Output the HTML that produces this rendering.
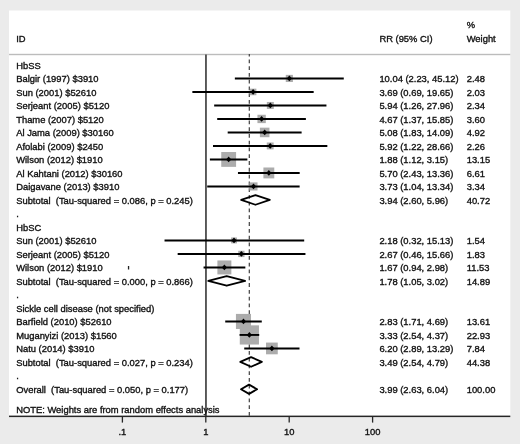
<!DOCTYPE html>
<html><head><meta charset="utf-8"><style>
html,body{margin:0;padding:0;width:520px;height:444px;overflow:hidden;background:#ebebeb;font-family:"Liberation Sans",sans-serif;}
svg{display:block;will-change:transform;}
text{white-space:pre;}
</style></head><body>
<svg width="520" height="444" viewBox="0 0 520 444">
<rect x="0" y="0" width="520" height="444" fill="#ebebeb"/>
<rect x="9" y="10.5" width="501.3" height="405.5" fill="#ffffff"/>
<rect x="9" y="53.8" width="501.3" height="1.4" fill="#bcbcbc"/>
<line x1="205.95" y1="54.5" x2="205.95" y2="416" stroke="#555" stroke-width="1.9"/>
<line x1="249.3" y1="54" x2="249.3" y2="416" stroke="#404040" stroke-width="1.2" stroke-dasharray="3.8 2.98" stroke-dashoffset="1.4"/>
<g fill="#acacac" stroke="none"><rect x="285.77" y="74.87" width="7.15" height="7.15"/><rect x="249.80" y="88.65" width="6.58" height="6.58"/><rect x="266.85" y="101.95" width="6.98" height="6.98"/><rect x="257.44" y="114.76" width="8.36" height="8.36"/><rect x="259.89" y="127.66" width="9.56" height="9.56"/><rect x="266.77" y="142.50" width="6.88" height="6.88"/><rect x="221.25" y="152.02" width="14.84" height="14.84"/><rect x="263.40" y="167.50" width="10.88" height="10.88"/><rect x="249.43" y="182.39" width="8.09" height="8.09"/><rect x="231.08" y="237.49" width="5.89" height="5.89"/><rect x="238.21" y="250.78" width="6.31" height="6.31"/><rect x="217.39" y="260.45" width="13.97" height="13.97"/><rect x="235.94" y="313.90" width="15.07" height="15.07"/><rect x="239.77" y="325.34" width="19.20" height="19.20"/><rect x="266.02" y="342.57" width="11.74" height="11.74"/></g>
<g stroke="#000" stroke-width="1.9"><line x1="234.85" y1="78.44" x2="343.77" y2="78.44"/><line x1="192.36" y1="91.94" x2="313.67" y2="91.94"/><line x1="214.17" y1="105.44" x2="326.44" y2="105.44"/><line x1="217.20" y1="118.94" x2="305.88" y2="118.94"/><line x1="227.69" y1="132.44" x2="301.62" y2="132.44"/><line x1="213.00" y1="145.94" x2="327.34" y2="145.94"/><line x1="209.90" y1="159.44" x2="247.36" y2="159.44"/><line x1="237.96" y1="172.94" x2="299.69" y2="172.94"/><line x1="207.22" y1="186.44" x2="299.64" y2="186.44"/><line x1="164.53" y1="240.44" x2="304.20" y2="240.44"/><line x1="177.67" y1="253.94" x2="305.45" y2="253.94"/><line x1="203.56" y1="267.44" x2="245.35" y2="267.44"/><line x1="225.23" y1="321.44" x2="261.78" y2="321.44"/><line x1="239.56" y1="334.94" x2="259.22" y2="334.94"/><line x1="244.24" y1="348.44" x2="299.50" y2="348.44"/></g>
<g fill="#000"><polygon points="286.74,78.44 289.34,75.54 291.94,78.44 289.34,81.34"/><polygon points="250.49,91.94 253.09,89.04 255.69,91.94 253.09,94.84"/><polygon points="267.73,105.44 270.33,102.54 272.93,105.44 270.33,108.34"/><polygon points="259.02,118.94 261.62,116.04 264.22,118.94 261.62,121.84"/><polygon points="262.07,132.44 264.67,129.54 267.27,132.44 264.67,135.34"/><polygon points="267.61,145.94 270.21,143.04 272.81,145.94 270.21,148.84"/><polygon points="226.06,159.44 228.66,156.54 231.26,159.44 228.66,162.34"/><polygon points="266.24,172.94 268.84,170.04 271.44,172.94 268.84,175.84"/><polygon points="250.88,186.44 253.48,183.54 256.08,186.44 253.48,189.34"/><polygon points="231.43,240.44 234.03,237.54 236.63,240.44 234.03,243.34"/><polygon points="238.77,253.94 241.37,251.04 243.97,253.94 241.37,256.84"/><polygon points="221.77,267.44 224.37,264.54 226.97,267.44 224.37,270.34"/><polygon points="240.88,321.44 243.48,318.54 246.08,321.44 243.48,324.34"/><polygon points="246.77,334.94 249.37,332.04 251.97,334.94 249.37,337.84"/><polygon points="269.29,348.44 271.89,345.54 274.49,348.44 271.89,351.34"/></g>
<g fill="none" stroke="#000" stroke-width="1.8" stroke-linejoin="round"><polygon points="241.14,199.94 255.46,195.14 269.79,199.94 255.46,204.74"/><polygon points="208.25,280.94 226.69,276.14 245.12,280.94 226.69,285.74"/><polygon points="240.28,361.94 251.07,357.14 261.86,361.94 251.07,366.74"/><polygon points="241.00,389.25 249.05,384.65 257.10,389.25 249.05,393.85"/></g>
<rect x="127.9" y="266" width="1.3" height="3.5" fill="#222"/>
<rect x="9" y="415.6" width="501.3" height="1.5" fill="#262626"/>
<g stroke="#262626" stroke-width="1.3"><line x1="122.40" y1="416" x2="122.40" y2="422.6"/><line x1="205.80" y1="416" x2="205.80" y2="422.6"/><line x1="289.20" y1="416" x2="289.20" y2="422.6"/><line x1="372.60" y1="416" x2="372.60" y2="422.6"/></g>
<g font-family="Liberation Sans" font-size="9.4px" fill="#111" stroke="#111" stroke-width="0.35" xml:space="preserve">
<text x="16.2" y="41.75">ID</text><text x="379.4" y="41.75">RR (95% CI)</text><text x="466.7" y="28.25">%</text><text x="466.7" y="41.75">Weight</text><text x="16.2" y="413.00">NOTE: Weights are from random effects analysis</text>
<text x="16.2" y="68.75">HbSS</text><text x="16.2" y="82.25">Balgir (1997) $3910</text><text x="379.4" y="82.25">10.04 (2.23, 45.12)</text><text x="466.7" y="82.25">2.48</text><text x="16.2" y="95.75">Sun (2001) $52610</text><text x="379.4" y="95.75">3.69 (0.69, 19.65)</text><text x="466.7" y="95.75">2.03</text><text x="16.2" y="109.25">Serjeant (2005) $5120</text><text x="379.4" y="109.25">5.94 (1.26, 27.96)</text><text x="466.7" y="109.25">2.34</text><text x="16.2" y="122.75">Thame (2007) $5120</text><text x="379.4" y="122.75">4.67 (1.37, 15.85)</text><text x="466.7" y="122.75">3.60</text><text x="16.2" y="136.25">Al Jama (2009) $30160</text><text x="379.4" y="136.25">5.08 (1.83, 14.09)</text><text x="466.7" y="136.25">4.92</text><text x="16.2" y="149.75">Afolabi (2009) $2450</text><text x="379.4" y="149.75">5.92 (1.22, 28.66)</text><text x="466.7" y="149.75">2.26</text><text x="16.2" y="163.25">Wilson (2012) $1910</text><text x="379.4" y="163.25">1.88 (1.12, 3.15)</text><text x="466.7" y="163.25">13.15</text><text x="16.2" y="176.75">Al Kahtani (2012) $30160</text><text x="379.4" y="176.75">5.70 (2.43, 13.36)</text><text x="466.7" y="176.75">6.61</text><text x="16.2" y="190.25">Daigavane (2013) $3910</text><text x="379.4" y="190.25">3.73 (1.04, 13.34)</text><text x="466.7" y="190.25">3.34</text><text x="16.2" y="203.75">Subtotal  (Tau-squared = 0.086, p = 0.245)</text><text x="379.4" y="203.75">3.94 (2.60, 5.96)</text><text x="466.7" y="203.75">40.72</text><text x="16.2" y="217.25">.</text><text x="16.2" y="230.75">HbSC</text><text x="16.2" y="244.25">Sun (2001) $52610</text><text x="379.4" y="244.25">2.18 (0.32, 15.13)</text><text x="466.7" y="244.25">1.54</text><text x="16.2" y="257.75">Serjeant (2005) $5120</text><text x="379.4" y="257.75">2.67 (0.46, 15.66)</text><text x="466.7" y="257.75">1.83</text><text x="16.2" y="271.25">Wilson (2012) $1910</text><text x="379.4" y="271.25">1.67 (0.94, 2.98)</text><text x="466.7" y="271.25">11.53</text><text x="16.2" y="284.75">Subtotal  (Tau-squared = 0.000, p = 0.866)</text><text x="379.4" y="284.75">1.78 (1.05, 3.02)</text><text x="466.7" y="284.75">14.89</text><text x="16.2" y="298.25">.</text><text x="16.2" y="311.75">Sickle cell disease (not specified)</text><text x="16.2" y="325.25">Barfield (2010) $52610</text><text x="379.4" y="325.25">2.83 (1.71, 4.69)</text><text x="466.7" y="325.25">13.61</text><text x="16.2" y="338.75">Muganyizi (2013) $1560</text><text x="379.4" y="338.75">3.33 (2.54, 4.37)</text><text x="466.7" y="338.75">22.93</text><text x="16.2" y="352.25">Natu (2014) $3910</text><text x="379.4" y="352.25">6.20 (2.89, 13.29)</text><text x="466.7" y="352.25">7.84</text><text x="16.2" y="365.75">Subtotal  (Tau-squared = 0.027, p = 0.234)</text><text x="379.4" y="365.75">3.49 (2.54, 4.79)</text><text x="466.7" y="365.75">44.38</text><text x="16.2" y="379.25">.</text><text x="16.2" y="392.75">Overall  (Tau-squared = 0.050, p = 0.177)</text><text x="379.4" y="392.75">3.99 (2.63, 6.04)</text><text x="466.7" y="392.75">100.00</text>
<text x="122.40" y="434.7" text-anchor="middle">.1</text><text x="205.80" y="434.7" text-anchor="middle">1</text><text x="289.20" y="434.7" text-anchor="middle">10</text><text x="372.60" y="434.7" text-anchor="middle">100</text>
</g>
</svg>
</body></html>
